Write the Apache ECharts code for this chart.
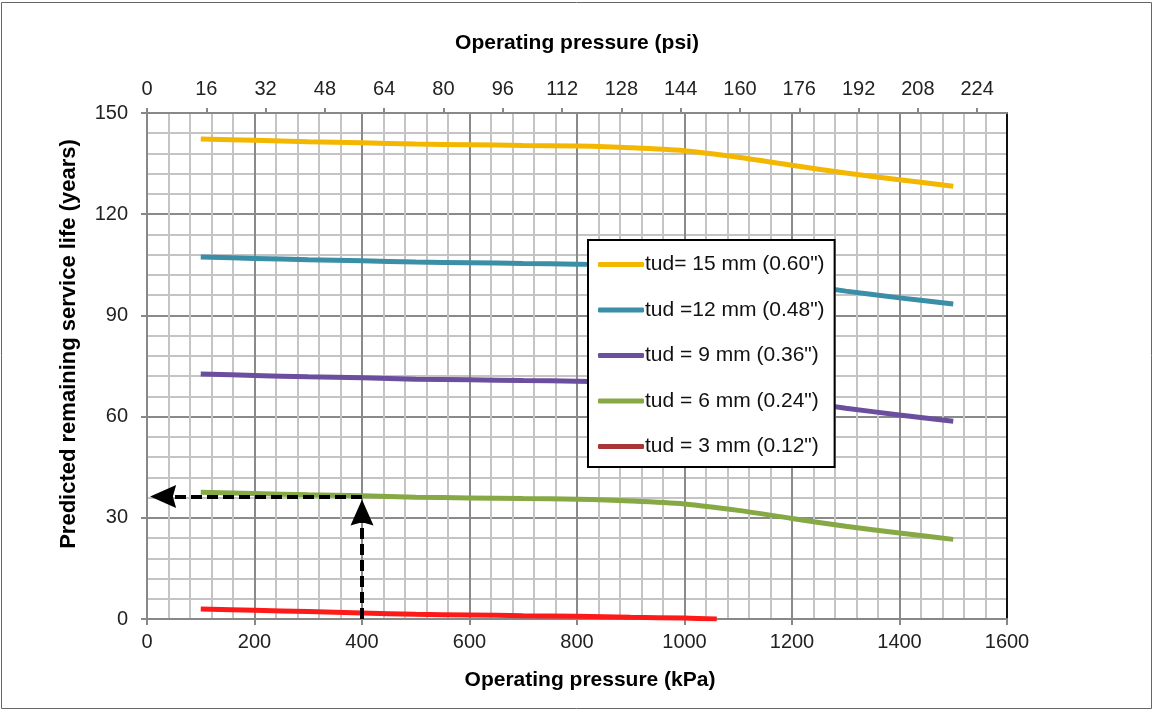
<!DOCTYPE html>
<html>
<head>
<meta charset="utf-8">
<script src="https://cdn.jsdelivr.net/npm/echarts@6/dist/echarts.min.js"></script>
<style>
html,body{margin:0;padding:0;background:#fff;}
#chart{width:1154px;height:710px;}
</style>
</head>
<body>
<div id="chart"></div>
<script>
// Operating pressure (kPa)
const pressureKpa = [100, 200, 300, 400, 500, 600, 700, 800, 900, 1000, 1100, 1200, 1300, 1400, 1500];
// Predicted remaining service life (years)
const tud15 = [142.3, 141.9, 141.5, 141.2, 140.8, 140.6, 140.4, 140.2, 139.7, 138.8, 136.9, 134.5, 132.2, 130.2, 128.3];
const tud12 = [107.3, 106.9, 106.5, 106.2, 105.8, 105.6, 105.4, 105.2, 104.7, 103.8, 101.9, 99.5, 97.2, 95.2, 93.4];
const tud9  = [72.6, 72.2, 71.8, 71.5, 71.1, 70.9, 70.7, 70.5, 70.0, 69.1, 67.2, 64.8, 62.5, 60.5, 58.6];
const tud6  = [37.6, 37.2, 36.8, 36.5, 36.1, 35.9, 35.7, 35.5, 35.0, 34.1, 32.2, 29.8, 27.5, 25.5, 23.6];
const redKpa = [100, 200, 300, 400, 500, 600, 700, 800, 900, 1000, 1060];
const tud3  = [3.0, 2.6, 2.2, 1.8, 1.4, 1.2, 1.0, 0.8, 0.5, 0.3, 0.0];

const seriesNames = ['tud= 15 mm (0.60")', 'tud =12 mm (0.48")', 'tud = 9 mm (0.36")', 'tud = 6 mm (0.24")', 'tud = 3 mm (0.12")'];
const seriesColors = ['#F4B700', '#3A8EA6', '#6B4F9E', '#86A845', '#FF1A1A'];
const legendRedColor = '#A83638';

// Example reading: 400 kPa -> ~36 years (arrow heads are centred on their end points)
const exampleKpa = 400;
const exampleYears = 36.3;
const verticalArrowEndYears = 31.6;
const horizontalArrowEndKpa = 30;

// axes
const kpaMin = 0, kpaMax = 1600, kpaStep = 200;
const yearMin = 0, yearMax = 150, yearStep = 30;
const kpaPerPsi = 6.895;
const psiStep = 16;

const pair = (xs, ys) => xs.map((x, i) => [x, ys[i]]);

const font = 'Liberation Sans, Arial, sans-serif';
const chart = echarts.init(document.getElementById('chart'));

const lineSeries = [tud15, tud12, tud9, tud6].map((ys, i) => ({
  name: seriesNames[i],
  type: 'line',
  xAxisIndex: 0,
  yAxisIndex: 0,
  data: pair(pressureKpa, ys),
  showSymbol: false,
  symbol: 'none',
  smooth: 0.3,
  lineStyle: { width: 5, color: seriesColors[i] },
  itemStyle: { color: seriesColors[i] },
  z: 3
}));
lineSeries.push({
  name: seriesNames[4],
  type: 'line',
  xAxisIndex: 0,
  yAxisIndex: 0,
  data: pair(redKpa, tud3),
  showSymbol: false,
  symbol: 'none',
  smooth: 0.3,
  lineStyle: { width: 5, color: seriesColors[4] },
  itemStyle: { color: seriesColors[4] },
  z: 3
});
lineSeries.push({
  name: 'arrows',
  type: 'line',
  xAxisIndex: 0,
  yAxisIndex: 0,
  data: [],
  silent: true,
  z: 5,
  markLine: {
    silent: true,
    symbol: ['none', 'path://M10,0 L20,24 L10,21 L0,24 Z'],
    symbolSize: [23, 26],
    symbolKeepAspect: false,
    label: { show: false },
    lineStyle: { color: '#000', width: 4, type: [11, 5], opacity: 1 },
    itemStyle: { color: '#000' },
    animation: false,
    data: [
      [{ coord: [exampleKpa, exampleYears] }, { coord: [horizontalArrowEndKpa, exampleYears] }],
      [{ coord: [exampleKpa, yearMin] }, { coord: [exampleKpa, verticalArrowEndYears] }]
    ]
  }
});

const numFmt = v => String(v);

const option = {
  animation: false,
  backgroundColor: '#fff',
  textStyle: { fontFamily: font },
  graphic: [{
    type: 'rect',
    shape: { x: 1.5, y: 2.5, width: 1150, height: 706 },
    style: { fill: 'none', stroke: '#666', lineWidth: 1 },
    silent: true, z: 0
  }],
  grid: { left: 147, right: 147, top: 113, bottom: 91, containLabel: false },
  legend: {
    orient: 'vertical',
    left: 588,
    top: 240,
    padding: [14, 10, 10, 10],
    itemGap: 24.5,
    itemWidth: 46,
    itemHeight: 5,
    icon: 'roundRect',
    borderColor: '#000',
    borderWidth: 2,
    backgroundColor: '#fff',
    textStyle: { fontSize: 21, color: '#111', fontFamily: font, lineHeight: 20, padding: [0, 0, 0, -4] },
    data: [
      { name: seriesNames[0] },
      { name: seriesNames[1] },
      { name: seriesNames[2] },
      { name: seriesNames[3] },
      { name: seriesNames[4], itemStyle: { color: legendRedColor }, lineStyle: { color: legendRedColor } }
    ],
    selectedMode: false,
    z: 10
  },
  xAxis: [{
    type: 'value',
    position: 'bottom',
    min: kpaMin, max: kpaMax, interval: kpaStep,
    name: 'Operating pressure (kPa)',
    nameLocation: 'middle',
    nameGap: 51,
    nameTextStyle: { fontSize: 21, fontWeight: 'bold', color: '#000', fontFamily: font, padding: [0, 0, 0, 26] },
    axisLine: { show: true, onZero: false, lineStyle: { color: '#888', width: 2 } },
    axisTick: { show: true, length: 6, lineStyle: { color: '#888', width: 2 } },
    axisLabel: { fontSize: 20, color: '#222', margin: 13, fontFamily: font, formatter: numFmt },
    splitLine: { show: true, lineStyle: { color: '#8a8a8a', width: 2 } },
    minorTick: { show: false, splitNumber: 5 },
    minorSplitLine: { show: true, lineStyle: { color: '#c4c4c4', width: 2 } }
  }, {
    type: 'value',
    position: 'top',
    min: 0, max: kpaMax / kpaPerPsi, interval: psiStep,
    name: 'Operating pressure (psi)',
    nameLocation: 'middle',
    nameGap: 59,
    nameTextStyle: { fontSize: 21, fontWeight: 'bold', color: '#000', fontFamily: font },
    axisLine: { show: true, onZero: false, lineStyle: { color: '#888', width: 2 } },
    axisTick: { show: true, length: 5, lineStyle: { color: '#888', width: 2 } },
    axisLabel: { fontSize: 20, color: '#222', margin: 14, fontFamily: font, showMaxLabel: false, formatter: numFmt },
    splitLine: { show: false }
  }],
  yAxis: [{
    type: 'value',
    position: 'left',
    min: yearMin, max: yearMax, interval: yearStep,
    name: 'Predicted remaining service life (years)',
    nameLocation: 'middle',
    nameGap: 67,
    nameTextStyle: { fontSize: 22, fontWeight: 'bold', color: '#000', fontFamily: font, padding: [0, 0, 0, 44] },
    axisLine: { show: true, onZero: false, lineStyle: { color: '#888', width: 2 } },
    axisTick: { show: true, length: 6, lineStyle: { color: '#888', width: 2 } },
    axisLabel: { fontSize: 20, color: '#222', margin: 19, fontFamily: font, formatter: numFmt },
    splitLine: { show: true, lineStyle: { color: '#8a8a8a', width: 2 } },
    minorTick: { show: false, splitNumber: 5 },
    minorSplitLine: { show: true, lineStyle: { color: '#c4c4c4', width: 2 } }
  }, {
    type: 'value',
    position: 'right',
    min: yearMin, max: yearMax, interval: yearStep,
    axisLine: { show: true, onZero: false, lineStyle: { color: '#111', width: 2 } },
    axisTick: { show: false },
    axisLabel: { show: false },
    splitLine: { show: false }
  }],
  series: lineSeries
};
chart.setOption(option);
</script>
</body>
</html>
